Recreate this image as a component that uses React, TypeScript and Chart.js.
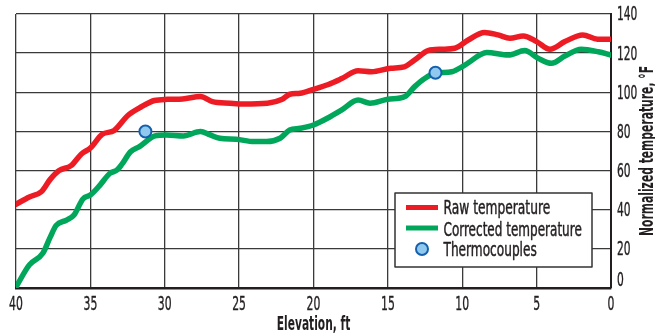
import React, { useEffect, useRef } from "react";
import { Chart, registerables } from "chart.js";

Chart.register(...registerables);

// ---- data ----
const rawElevation = [40, 39.1, 38.3, 37.7, 37.1, 36.3, 35.6, 35.0, 34.2, 33.4, 32.5, 31.7, 30.7, 29.8, 28.8, 27.6, 26.8, 25.6, 24.7, 23.1, 22.1, 21.6, 20.9, 20.0, 19.0, 18.1, 17.0, 16.1, 14.8, 13.9, 13.2, 12.3, 11.4, 10.5, 9.6, 8.5, 7.6, 6.8, 5.9, 5.0, 4.1, 3.1, 1.9, 0.9, 0];
const rawTemperature = [42.8, 46.5, 49.2, 55.5, 60, 62.5, 68.5, 71.5, 78.5, 80.5, 88, 92, 95.8, 96.4, 96.6, 97.8, 95.2, 94.4, 94, 94.4, 96.4, 99, 99.5, 101.5, 104, 107, 111, 110.5, 112.3, 113, 116.5, 121.3, 122, 122.5, 126.7, 130.6, 129.3, 127.6, 128.8, 125.9, 122, 125.9, 129.3, 127.1, 127.1];

const correctedElevation = [40, 39.1, 38.2, 37.7, 37.3, 36.6, 36.1, 35.5, 35.0, 34.35, 33.7, 33.2, 32.9, 32.3, 31.7, 30.65, 29.9, 28.75, 27.6, 26.95, 26.3, 25.2, 24.0, 23.15, 22.25, 21.6, 20.9, 20.0, 19.0, 18.1, 17.0, 16.2, 15.0, 13.85, 13.2, 12.5, 11.8, 10.7, 9.8, 8.35, 6.9, 5.8, 4.9, 4.0, 3.1, 2.0, 0.85, 0];
const correctedTemperature = [0.5, 11.8, 17.7, 26, 32, 34.7, 37.3, 45.5, 47.5, 52.6, 58.5, 60.3, 63, 69.6, 72.2, 77.7, 78.2, 77.7, 79.9, 78.2, 76.5, 76, 74.8, 74.8, 76.5, 80.7, 81.6, 83.3, 87, 91, 96, 94.4, 96.4, 97.8, 102.9, 107.2, 109.7, 110.5, 114, 120.3, 119, 121.3, 117.4, 114.8, 118.5, 122, 120.7, 119];

const thermocoupleElevation = [31.3, 11.8];
const thermocoupleTemperature = [80, 110];

const xTicks = [40, 35, 30, 25, 20, 15, 10, 5, 0];
const yTicks = [0, 20, 40, 60, 80, 100, 120, 140];

const seriesLabels = ["Raw temperature", "Corrected temperature", "Thermocouples"];
const xTitle = "Elevation, ft";
const yTitle = "Normalized temperature, °F";

// ---- style ----
const FONT = '"Liberation Sans Narrow", "DejaVu Sans Condensed", "Liberation Sans", sans-serif';
const TEXT = "#231f20";
const RED = "#ed1c24";
const GREEN = "#00a65a";
const TC_FILL = "#8fc9ef";
const TC_BORDER = "#1560ad";
const LEGEND_WIDTHS = [106.7, 138.3, 93.3];

const zip = (xs: number[], ys: number[]) => xs.map((x, i) => ({ x, y: ys[i] }));

function heavyText(ctx: CanvasRenderingContext2D, s: string, x: number, y: number, w: number, stroke: number) {
  ctx.fillText(s, x, y, w);
  if (stroke > 0) {
    ctx.lineWidth = stroke;
    ctx.strokeText(s, x, y, w);
  }
}

const overlayPlugin = {
  id: "overlayText",
  afterDraw(chart: any) {
    const { ctx, chartArea } = chart;
    const xs = chart.scales.x;
    const ys = chart.scales.y;
    ctx.save();
    ctx.fillStyle = TEXT;
    ctx.strokeStyle = TEXT;
    ctx.lineJoin = "round";

    // x tick labels
    ctx.font = `19px ${FONT}`;
    ctx.textAlign = "center";
    ctx.textBaseline = "alphabetic";
    xTicks.forEach((v) => {
      const s = String(v);
      heavyText(ctx, s, xs.getPixelForValue(v), chartArea.bottom + 22, 6.9 * s.length, 0.35);
    });

    // y tick labels
    ctx.textAlign = "left";
    ctx.textBaseline = "middle";
    yTicks.forEach((v, i) => {
      const s = String(v);
      let py = ys.getPixelForValue(v) + 1.5;
      if (i === 0) py -= 8;
      heavyText(ctx, s, chartArea.right + 6, py, 6.8 * s.length, 0.35);
    });

    // axis titles
    ctx.font = `bold 19px ${FONT}`;
    ctx.textAlign = "center";
    ctx.textBaseline = "alphabetic";
    heavyText(ctx, xTitle, (chartArea.left + chartArea.right) / 2, chartArea.bottom + 42, 73.5, 0);
    ctx.save();
    ctx.translate(chartArea.right + 42, (chartArea.top + chartArea.bottom) / 2);
    ctx.rotate(-Math.PI / 2);
    heavyText(ctx, yTitle, 0, 0, 170, 0);
    ctx.restore();

    // legend
    const bx = chartArea.right - 216;
    const by = chartArea.bottom - 95;
    const bw = 197;
    const bh = 74;
    ctx.fillStyle = "#ffffff";
    ctx.fillRect(bx, by, bw, bh);
    ctx.strokeStyle = "#333333";
    ctx.lineWidth = 1.5;
    ctx.strokeRect(bx, by, bw, bh);

    const ds = chart.data.datasets;
    const rows = [by + 14.5, by + 35, by + 56];
    [0, 1].forEach((i) => {
      ctx.strokeStyle = ds[i].borderColor;
      ctx.lineWidth = 5;
      ctx.lineCap = "butt";
      ctx.beginPath();
      ctx.moveTo(bx + 11, rows[i]);
      ctx.lineTo(bx + 43, rows[i]);
      ctx.stroke();
    });
    ctx.beginPath();
    ctx.arc(bx + 27, rows[2], 6, 0, Math.PI * 2);
    ctx.fillStyle = ds[2].pointBackgroundColor;
    ctx.fill();
    ctx.lineWidth = 2;
    ctx.strokeStyle = ds[2].pointBorderColor;
    ctx.stroke();

    ctx.fillStyle = TEXT;
    ctx.strokeStyle = TEXT;
    ctx.font = `19px ${FONT}`;
    ctx.textAlign = "left";
    ctx.textBaseline = "alphabetic";
    const baselines = [by + 21.3, by + 42.7, by + 62.7];
    ds.forEach((d: any, i: number) => {
      heavyText(ctx, d.label, bx + 48.5, baselines[i], LEGEND_WIDTHS[i], 0.45);
    });

    ctx.restore();
  },
};

export default function App() {
  const canvasRef = useRef<HTMLCanvasElement | null>(null);

  useEffect(() => {
    const canvas = canvasRef.current;
    if (!canvas) return;
    const chart = new Chart(canvas, {
      type: "line",
      data: {
        datasets: [
          {
            label: seriesLabels[0],
            data: zip(rawElevation, rawTemperature),
            borderColor: RED,
            backgroundColor: RED,
            borderWidth: 5.5,
            pointRadius: 0,
            tension: 0.4,
            cubicInterpolationMode: "monotone",
            borderCapStyle: "round",
            borderJoinStyle: "round",
            order: 2,
          },
          {
            label: seriesLabels[1],
            data: zip(correctedElevation, correctedTemperature),
            borderColor: GREEN,
            backgroundColor: GREEN,
            borderWidth: 5.5,
            pointRadius: 0,
            tension: 0.4,
            cubicInterpolationMode: "monotone",
            borderCapStyle: "round",
            borderJoinStyle: "round",
            order: 1,
          },
          {
            label: seriesLabels[2],
            data: zip(thermocoupleElevation, thermocoupleTemperature),
            showLine: false,
            pointRadius: 6,
            pointBorderWidth: 2,
            pointBackgroundColor: TC_FILL,
            pointBorderColor: TC_BORDER,
            borderColor: TC_BORDER,
            backgroundColor: TC_FILL,
            order: 0,
          },
        ],
      } as any,
      options: {
        animation: false,
        responsive: false,
        devicePixelRatio: 1,
        layout: { padding: { left: 16, top: 14, right: 0, bottom: 0 } },
        plugins: { legend: { display: false }, tooltip: { enabled: false } },
        events: [],
        scales: {
          x: {
            type: "linear",
            position: "bottom",
            reverse: true,
            min: 0,
            max: 40,
            afterBuildTicks: (scale: any) => {
              scale.ticks = xTicks.map((v) => ({ value: v }));
            },
            afterFit: (scale: any) => {
              scale.height = 47;
            },
            ticks: { display: false },
            grid: { color: "#3a3a3a", lineWidth: 1.3, drawTicks: false },
            border: { display: true, color: "#231f20", width: 2.5 },
          },
          y: {
            type: "linear",
            position: "right",
            min: 0,
            max: 140,
            afterBuildTicks: (scale: any) => {
              scale.ticks = yTicks.map((v) => ({ value: v }));
            },
            afterFit: (scale: any) => {
              scale.width = 44;
            },
            ticks: { display: false },
            grid: { color: "#3a3a3a", lineWidth: 1.3, drawTicks: false },
            border: { display: true, color: "#231f20", width: 2 },
          },
        },
      } as any,
      plugins: [overlayPlugin],
    });
    return () => chart.destroy();
  }, []);

  return (
    <div style={{ position: "absolute", left: 0, top: 0, width: 655, height: 335, background: "#ffffff" }}>
      <canvas ref={canvasRef} width={655} height={335} style={{ width: 655, height: 335, display: "block" }} />
    </div>
  );
}
